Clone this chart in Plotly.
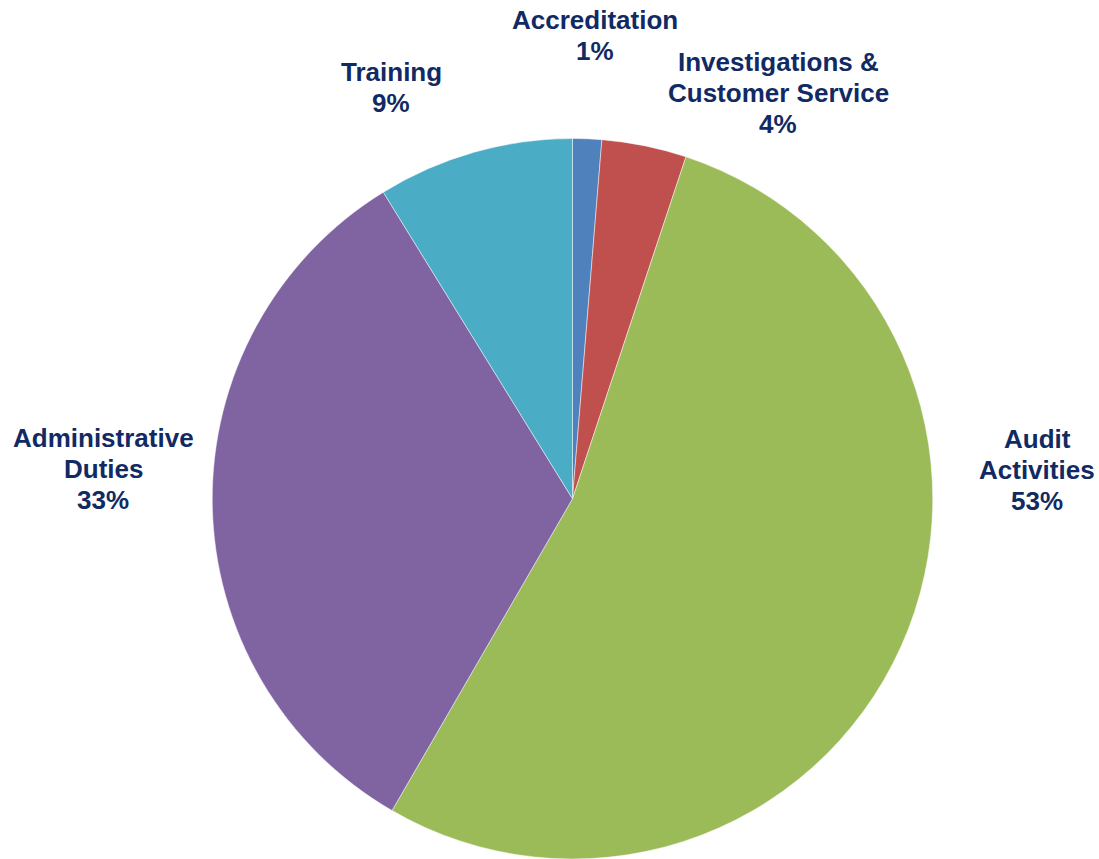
import plotly.graph_objects as go

# ---- data ----
categories = ["Accreditation", "Investigations &|Customer Service", "Audit|Activities",
              "Administrative|Duties", "Training"]
values = [1.3, 3.8, 53.25, 32.85, 8.8]
colors = ["#4F81BD", "#C0504D", "#9BBB59", "#8064A2", "#4BACC6"]

W, H = 1099, 859
TEXT_COLOR = "#112A63"
LINE_STEP = 31

fig = go.Figure(go.Pie(
    labels=[c.replace("|", " ") for c in categories],
    values=values,
    sort=False,
    direction="clockwise",
    rotation=0,
    marker=dict(colors=colors, line=dict(color="rgba(255,255,255,0.6)", width=0.8)),
    textinfo="none",
    hoverinfo="label+percent",
    showlegend=False,
    domain=dict(x=[(572.5 - 362.5) / W, (572.5 + 362.5) / W], y=[0, 1 - 138.5 / H]),
))

# label placement (pixel centers of each label block in the page)
label_pos = [(595, 36), (778, 93), (1037, 470), (103, 469), (391, 88)]
total = sum(values)
annotations = []
for cat, v, (px, py) in zip(categories, values, label_pos):
    pct = round(v / total * 100)
    lines = cat.split("|") + [f"{pct}%"]
    n = len(lines)
    for i, line in enumerate(lines):
        ly = py + (i - (n - 1) / 2) * LINE_STEP
        annotations.append(dict(
            x=px / W, y=1 - ly / H, xref="paper", yref="paper",
            xanchor="center", yanchor="middle", showarrow=False,
            text=f"<b>{line}</b>", align="center",
            font=dict(family="Liberation Sans, Arial, sans-serif", size=26, color=TEXT_COLOR),
        ))

fig.update_layout(
    width=W, height=H,
    margin=dict(l=0, r=0, t=0, b=0),
    paper_bgcolor="white", plot_bgcolor="white",
    annotations=annotations,
)

fig.write_html("out.html")
